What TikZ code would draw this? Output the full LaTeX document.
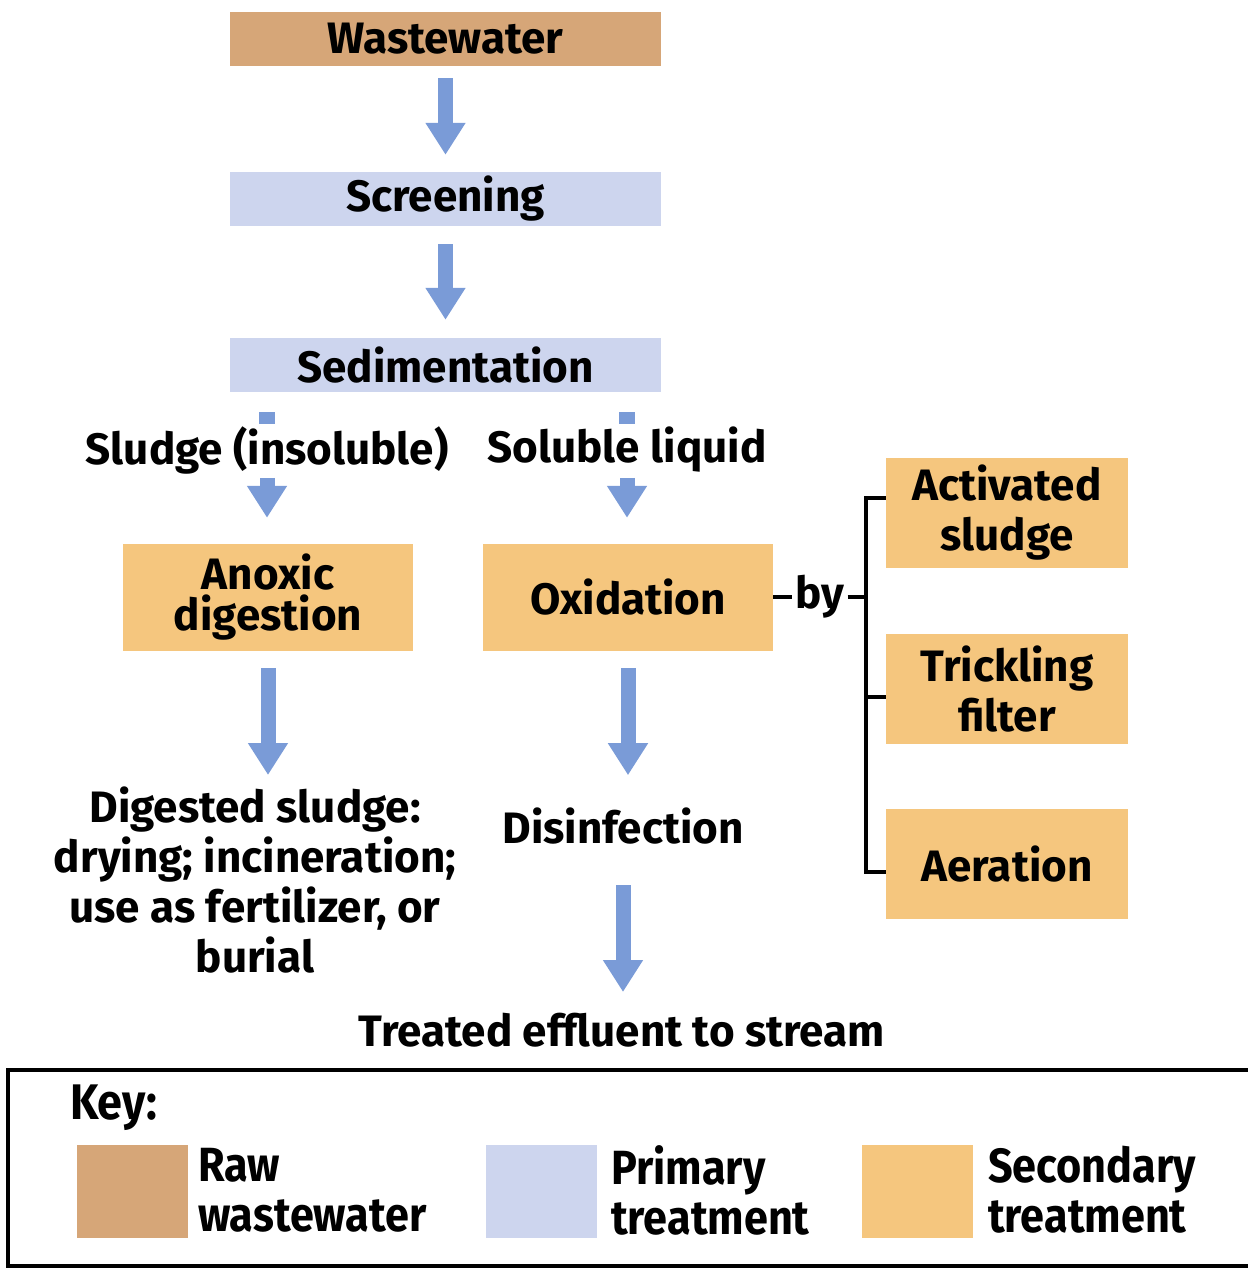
\documentclass[tikz,border=0pt]{standalone}
\usepackage{fontspec}
\setmainfont{Fira Sans}
\newfontfamily\keyfont{Fira Sans}[FakeStretch=0.9]
\usetikzlibrary{arrows.meta}
\definecolor{rawc}{RGB}{214,166,120}
\definecolor{primc}{RGB}{205,213,238}
\definecolor{secc}{RGB}{245,198,126}
\definecolor{arrc}{RGB}{122,155,215}
\tikzset{
  box/.style={minimum width=431pt, minimum height=54pt, inner sep=0pt, font=\fontsize{44}{46}\selectfont\bfseries},
  rawbox/.style={box, fill=rawc},
  primbox/.style={box, fill=primc},
  secbox/.style={fill=secc, inner sep=0pt, align=center, font=\fontsize{44}{50}\selectfont\bfseries},
  lbl/.style={inner sep=0pt, align=center, font=\fontsize{44}{50}\selectfont\bfseries},
  keylbl/.style={inner sep=0pt, anchor=west, align=left, font=\keyfont\fontsize{48}{50}\selectfont\bfseries},
  bigarrow/.style={draw=arrc, line width=15pt, -{Triangle[width=38pt,length=32pt]}},
  brk/.style={draw=black, line width=4.5pt},
}
\begin{document}
\begin{tikzpicture}[x=1pt,y=-1pt]
\useasboundingbox (0,0) rectangle (1247,1268);
% main boxes
\node[rawbox] (ww) at (445.5,39) {Wastewater};
\node[primbox] (scr) at (445.5,199) {Screening};
\node[primbox] (sed) at (445.5,365) {Sedimentation};
% branch labels
\node[lbl] (sl) at (267,450) {Sludge (insoluble)};
\node[lbl] (so) at (627,450) {Soluble liquid};
% secondary boxes
\node[secbox, minimum width=290pt, minimum height=107pt, font=\fontsize{44}{41}\selectfont\bfseries] (anox) at (268,597.5) {Anoxic\\digestion};
\node[secbox, minimum width=290pt, minimum height=107pt] (oxi) at (628,597.5) {Oxidation};
\node[secbox, minimum width=242pt, minimum height=110pt] (act) at (1007,513) {Activated\\sludge};
\node[secbox, minimum width=242pt, minimum height=110pt] (trk) at (1007,689) {Trickling\\filter};
\node[secbox, minimum width=242pt, minimum height=110pt] (aer) at (1007,864) {Aeration};
% text outcomes
\node[lbl, anchor=north] (dig) at (255,787) {Digested sludge:\\drying; incineration;\\use as fertilizer, or\\burial};
\node[lbl] (dis) at (623,826) {Disinfection};
\node[lbl] (trt) at (622,1030) {Treated effluent to stream};
% arrows
\draw[bigarrow] ([yshift=-12pt]ww.south) -- ([yshift=17pt]scr.north);
\draw[bigarrow] ([yshift=-18pt]scr.south) -- ([yshift=18pt]sed.north);
\fill[arrc] ([xshift=-8pt,yshift=-20pt]sed.south -| sl.south) rectangle ([xshift=8pt,yshift=-32pt]sed.south -| sl.south);
\fill[arrc] ([xshift=-8pt,yshift=-20pt]sed.south -| so.south) rectangle ([xshift=8pt,yshift=-32pt]sed.south -| so.south);
\draw[bigarrow] ([yshift=66pt]anox.north -| sl.south) -- ([yshift=26pt]anox.north -| sl.south);
\draw[bigarrow] ([yshift=66pt]oxi.north -| so.south) -- ([yshift=26pt]oxi.north -| so.south);
\draw[bigarrow] ([yshift=-17pt]anox.south) -- ([yshift=12pt]dig.north -| anox.south);
\draw[bigarrow] ([yshift=-17pt]oxi.south) -- ([yshift=-124pt]oxi.south);
\draw[bigarrow] ([yshift=-59pt]dis.center) -- ([yshift=-166pt]dis.center);
% by bracket
\node[lbl, anchor=center] (by) at (820,597) {by};
\coordinate (bt) at ([xshift=-20pt,yshift=15pt]act.west);
\coordinate (bm) at ([xshift=-20pt,yshift=-8pt]trk.west);
\coordinate (bb) at ([xshift=-20pt,yshift=-8pt]aer.west);
\draw[brk] (oxi.east |- by.center) -- ([xshift=-3pt]by.west |- by.center);
\draw[brk] ([xshift=3pt]by.east |- by.center) -- (bt |- by.center);
\draw[brk] ([yshift=15pt]act.west) -- (bt) -- (bb) -- ([yshift=-8pt]aer.west);
\draw[brk] (bm) -- ([yshift=-8pt]trk.west);
% key
\draw[line width=4pt] (8,1070) rectangle (1260,1266);
\node[inner sep=0pt, anchor=west, font=\keyfont\fontsize{50}{50}\selectfont\bfseries] (key) at (70,1108) {Key:};
\fill[rawc] (77,1145) rectangle (188,1238);
\fill[primc] (486,1145) rectangle (597,1238);
\fill[secc] (862,1145) rectangle (973,1238);
\node[keylbl] (k1) at (198,1190) {Raw\\wastewater};
\node[keylbl] (k2) at (611,1190) {Primary\\treatment};
\node[keylbl] (k3) at (988,1190) {Secondary\\treatment};
\end{tikzpicture}
\end{document}
